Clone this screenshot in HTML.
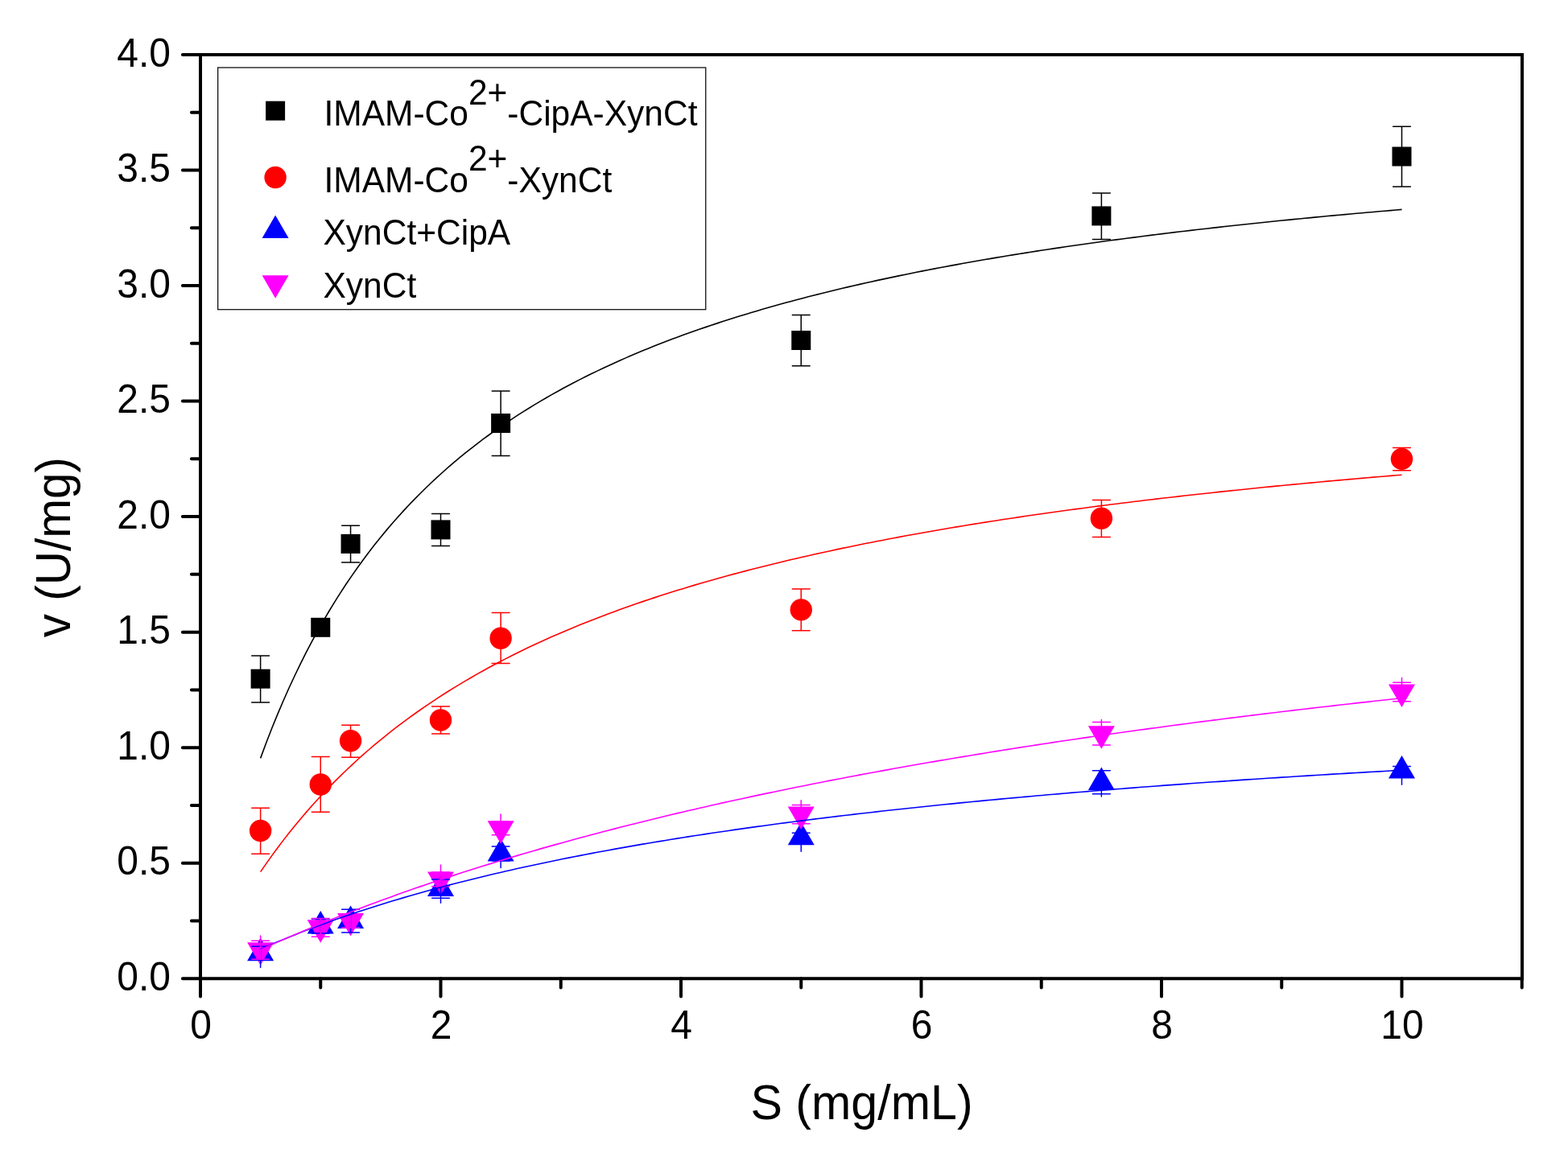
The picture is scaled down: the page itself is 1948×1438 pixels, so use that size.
<!DOCTYPE html><html><head><meta charset="utf-8"><title>Michaelis-Menten plot</title><style>html,body{margin:0;padding:0;background:#fff;}svg{display:block;}text{font-family:"Liberation Sans",Arial,sans-serif;fill:#000;}</style></head><body>
<svg width="1948" height="1438" viewBox="0 0 1948 1438">
<rect width="1948" height="1438" fill="#fff"/>
<path d="M249.00,1216.3 V1238.40 M398.25,1216.3 V1227.40 M547.50,1216.3 V1238.40 M696.75,1216.3 V1227.40 M846.00,1216.3 V1238.40 M995.25,1216.3 V1227.40 M1144.50,1216.3 V1238.40 M1293.75,1216.3 V1227.40 M1443.00,1216.3 V1238.40 M1592.25,1216.3 V1227.40 M1741.50,1216.3 V1238.40 M1890.75,1216.3 V1227.40 M249,1216.30 H226.90 M249,1144.52 H237.90 M249,1072.75 H226.90 M249,1000.97 H237.90 M249,929.20 H226.90 M249,857.42 H237.90 M249,785.65 H226.90 M249,713.87 H237.90 M249,642.10 H226.90 M249,570.32 H237.90 M249,498.55 H226.90 M249,426.77 H237.90 M249,355.00 H226.90 M249,283.22 H237.90 M249,211.45 H226.90 M249,139.67 H237.90 M249,67.90 H226.90" stroke="#000" stroke-width="4" stroke-linecap="round" fill="none"/>
<path d="M249,68 H1891 V1216.3 H249 Z" stroke="#000" stroke-width="4" fill="none" stroke-linejoin="miter"/>
<text transform="translate(249.50,1291.20) scale(1,1.035)" font-size="48" text-anchor="middle">0</text>
<text transform="translate(548.00,1291.20) scale(1,1.035)" font-size="48" text-anchor="middle">2</text>
<text transform="translate(846.50,1291.20) scale(1,1.035)" font-size="48" text-anchor="middle">4</text>
<text transform="translate(1145.00,1291.20) scale(1,1.035)" font-size="48" text-anchor="middle">6</text>
<text transform="translate(1443.50,1291.20) scale(1,1.035)" font-size="48" text-anchor="middle">8</text>
<text transform="translate(1742.00,1291.20) scale(1,1.035)" font-size="48" text-anchor="middle">10</text>
<text transform="translate(212.00,1230.90) scale(1,1.035)" font-size="48" text-anchor="end">0.0</text>
<text transform="translate(212.00,1087.35) scale(1,1.035)" font-size="48" text-anchor="end">0.5</text>
<text transform="translate(212.00,943.80) scale(1,1.035)" font-size="48" text-anchor="end">1.0</text>
<text transform="translate(212.00,800.25) scale(1,1.035)" font-size="48" text-anchor="end">1.5</text>
<text transform="translate(212.00,656.70) scale(1,1.035)" font-size="48" text-anchor="end">2.0</text>
<text transform="translate(212.00,513.15) scale(1,1.035)" font-size="48" text-anchor="end">2.5</text>
<text transform="translate(212.00,369.60) scale(1,1.035)" font-size="48" text-anchor="end">3.0</text>
<text transform="translate(212.00,226.05) scale(1,1.035)" font-size="48" text-anchor="end">3.5</text>
<text transform="translate(212.00,82.50) scale(1,1.035)" font-size="48" text-anchor="end">4.0</text>
<text transform="translate(1070.50,1390.80) scale(1,1.035)" font-size="59.2" text-anchor="middle">S (mg/mL)</text>
<text transform="translate(87.20,680.20) rotate(-90) scale(1,1.04)" font-size="58.5" text-anchor="middle">v (U/mg)</text>
<rect x="311.62" y="831.70" width="24" height="24" fill="#000"/>
<rect x="386.25" y="767.80" width="24" height="24" fill="#000"/>
<rect x="423.56" y="663.90" width="24" height="24" fill="#000"/>
<rect x="535.50" y="646.40" width="24" height="24" fill="#000"/>
<rect x="610.12" y="514.00" width="24" height="24" fill="#000"/>
<rect x="983.25" y="411.00" width="24" height="24" fill="#000"/>
<rect x="1356.38" y="256.40" width="24" height="24" fill="#000"/>
<rect x="1729.50" y="182.50" width="24" height="24" fill="#000"/>
<circle cx="323.62" cy="1032.50" r="13.7" fill="#f00"/>
<circle cx="398.25" cy="975.00" r="13.7" fill="#f00"/>
<circle cx="435.56" cy="920.75" r="13.7" fill="#f00"/>
<circle cx="547.50" cy="895.00" r="13.7" fill="#f00"/>
<circle cx="622.12" cy="793.20" r="13.7" fill="#f00"/>
<circle cx="995.25" cy="757.90" r="13.7" fill="#f00"/>
<circle cx="1368.38" cy="644.30" r="13.7" fill="#f00"/>
<circle cx="1741.50" cy="570.40" r="13.7" fill="#f00"/>
<path d="M323.62,1165.75 L340.12,1194.25 L307.12,1194.25 Z" fill="#00f"/>
<path d="M398.25,1131.90 L414.75,1160.40 L381.75,1160.40 Z" fill="#00f"/>
<path d="M435.56,1125.50 L452.06,1154.00 L419.06,1154.00 Z" fill="#00f"/>
<path d="M547.50,1085.60 L564.00,1114.10 L531.00,1114.10 Z" fill="#00f"/>
<path d="M622.12,1041.90 L638.62,1070.40 L605.62,1070.40 Z" fill="#00f"/>
<path d="M995.25,1021.80 L1011.75,1050.30 L978.75,1050.30 Z" fill="#00f"/>
<path d="M1368.38,953.40 L1384.88,981.90 L1351.88,981.90 Z" fill="#00f"/>
<path d="M1741.50,939.00 L1758.00,967.50 L1725.00,967.50 Z" fill="#00f"/>
<path d="M323.62,1199.70 L340.12,1171.20 L307.12,1171.20 Z" fill="#f0f"/>
<path d="M398.25,1171.70 L414.75,1143.20 L381.75,1143.20 Z" fill="#f0f"/>
<path d="M435.56,1163.60 L452.06,1135.10 L419.06,1135.10 Z" fill="#f0f"/>
<path d="M547.50,1111.90 L564.00,1083.40 L531.00,1083.40 Z" fill="#f0f"/>
<path d="M622.12,1048.80 L638.62,1020.30 L605.62,1020.30 Z" fill="#f0f"/>
<path d="M995.25,1031.00 L1011.75,1002.50 L978.75,1002.50 Z" fill="#f0f"/>
<path d="M1368.38,930.70 L1384.88,902.20 L1351.88,902.20 Z" fill="#f0f"/>
<path d="M1741.50,879.00 L1758.00,850.50 L1725.00,850.50 Z" fill="#f0f"/>
<path d="M323.62,815.10 V872.90 M312.73,815.10 H334.52 M312.73,872.90 H334.52" stroke="#000" stroke-width="1.5" stroke-linecap="round" fill="none"/>
<path d="M398.25,773.00 V787.00 M387.35,773.00 H409.15 M387.35,787.00 H409.15" stroke="#000" stroke-width="1.5" stroke-linecap="round" fill="none"/>
<path d="M435.56,653.20 V699.00 M424.66,653.20 H446.46 M424.66,699.00 H446.46" stroke="#000" stroke-width="1.5" stroke-linecap="round" fill="none"/>
<path d="M547.50,638.50 V678.50 M536.60,638.50 H558.40 M536.60,678.50 H558.40" stroke="#000" stroke-width="1.5" stroke-linecap="round" fill="none"/>
<path d="M622.12,486.00 V566.40 M611.23,486.00 H633.02 M611.23,566.40 H633.02" stroke="#000" stroke-width="1.5" stroke-linecap="round" fill="none"/>
<path d="M995.25,391.60 V454.80 M984.35,391.60 H1006.15 M984.35,454.80 H1006.15" stroke="#000" stroke-width="1.5" stroke-linecap="round" fill="none"/>
<path d="M1368.38,239.90 V297.40 M1357.47,239.90 H1379.28 M1357.47,297.40 H1379.28" stroke="#000" stroke-width="1.5" stroke-linecap="round" fill="none"/>
<path d="M1741.50,157.20 V231.90 M1730.60,157.20 H1752.40 M1730.60,231.90 H1752.40" stroke="#000" stroke-width="1.5" stroke-linecap="round" fill="none"/>
<path d="M323.62,1004.25 V1061.25 M312.73,1004.25 H334.52 M312.73,1061.25 H334.52" stroke="#f00" stroke-width="1.5" stroke-linecap="round" fill="none"/>
<path d="M398.25,940.50 V1009.25 M387.35,940.50 H409.15 M387.35,1009.25 H409.15" stroke="#f00" stroke-width="1.5" stroke-linecap="round" fill="none"/>
<path d="M435.56,901.25 V941.25 M424.66,901.25 H446.46 M424.66,941.25 H446.46" stroke="#f00" stroke-width="1.5" stroke-linecap="round" fill="none"/>
<path d="M547.50,878.10 V912.10 M536.60,878.10 H558.40 M536.60,912.10 H558.40" stroke="#f00" stroke-width="1.5" stroke-linecap="round" fill="none"/>
<path d="M622.12,761.50 V824.50 M611.23,761.50 H633.02 M611.23,824.50 H633.02" stroke="#f00" stroke-width="1.5" stroke-linecap="round" fill="none"/>
<path d="M995.25,732.00 V783.80 M984.35,732.00 H1006.15 M984.35,783.80 H1006.15" stroke="#f00" stroke-width="1.5" stroke-linecap="round" fill="none"/>
<path d="M1368.38,621.60 V667.40 M1357.47,621.60 H1379.28 M1357.47,667.40 H1379.28" stroke="#f00" stroke-width="1.5" stroke-linecap="round" fill="none"/>
<path d="M1741.50,556.50 V584.70 M1730.60,556.50 H1752.40 M1730.60,584.70 H1752.40" stroke="#f00" stroke-width="1.5" stroke-linecap="round" fill="none"/>
<path d="M323.62,1170.40 V1202.60 M312.73,1176.30 H334.52 M312.73,1193.20 H334.52" stroke="#00f" stroke-width="1.5" stroke-linecap="round" fill="none"/>
<path d="M398.25,1142.00 V1160.00 M387.35,1142.00 H409.15 M387.35,1160.00 H409.15" stroke="#00f" stroke-width="1.5" stroke-linecap="round" fill="none"/>
<path d="M435.56,1130.30 V1159.10 M424.66,1130.30 H446.46 M424.66,1159.10 H446.46" stroke="#00f" stroke-width="1.5" stroke-linecap="round" fill="none"/>
<path d="M547.50,1088.40 V1122.30 M536.60,1093.10 H558.40 M536.60,1116.20 H558.40" stroke="#00f" stroke-width="1.5" stroke-linecap="round" fill="none"/>
<path d="M622.12,1051.90 V1078.60 M611.23,1051.90 H633.02 M611.23,1069.90 H633.02" stroke="#00f" stroke-width="1.5" stroke-linecap="round" fill="none"/>
<path d="M995.25,1035.20 V1058.30 M984.35,1035.20 H1006.15 M984.35,1046.40 H1006.15" stroke="#00f" stroke-width="1.5" stroke-linecap="round" fill="none"/>
<path d="M1368.38,957.80 V989.90 M1357.47,957.80 H1379.28 M1357.47,986.80 H1379.28" stroke="#00f" stroke-width="1.5" stroke-linecap="round" fill="none"/>
<path d="M1741.50,952.50 V975.30 M1730.60,952.50 H1752.40 M1730.60,963.50 H1752.40" stroke="#00f" stroke-width="1.5" stroke-linecap="round" fill="none"/>
<path d="M323.62,1162.90 V1192.30 M312.73,1169.20 H334.52 M312.73,1192.30 H334.52" stroke="#f0f" stroke-width="1.5" stroke-linecap="round" fill="none"/>
<path d="M398.25,1141.60 V1164.20 M387.35,1141.60 H409.15 M387.35,1164.20 H409.15" stroke="#f0f" stroke-width="1.5" stroke-linecap="round" fill="none"/>
<path d="M435.56,1136.00 V1153.00 M424.66,1136.00 H446.46 M424.66,1153.00 H446.46" stroke="#f0f" stroke-width="1.5" stroke-linecap="round" fill="none"/>
<path d="M547.50,1075.00 V1101.80 M536.60,1084.00 H558.40 M536.60,1101.80 H558.40" stroke="#f0f" stroke-width="1.5" stroke-linecap="round" fill="none"/>
<path d="M622.12,1012.10 V1037.80 M611.23,1021.00 H633.02 M611.23,1037.80 H633.02" stroke="#f0f" stroke-width="1.5" stroke-linecap="round" fill="none"/>
<path d="M995.25,994.70 V1023.70 M984.35,1000.60 H1006.15 M984.35,1023.70 H1006.15" stroke="#f0f" stroke-width="1.5" stroke-linecap="round" fill="none"/>
<path d="M1368.38,894.40 V926.00 M1357.47,897.50 H1379.28 M1357.47,926.00 H1379.28" stroke="#f0f" stroke-width="1.5" stroke-linecap="round" fill="none"/>
<path d="M1741.50,842.60 V871.80 M1730.60,848.20 H1752.40 M1730.60,871.80 H1752.40" stroke="#f0f" stroke-width="1.5" stroke-linecap="round" fill="none"/>
<path d="M323.62,942.40 L330.71,923.31 L337.80,905.08 L344.89,887.66 L351.98,870.99 L359.07,855.03 L366.16,839.72 L373.25,825.04 L380.34,810.94 L387.43,797.40 L394.52,784.37 L401.61,771.82 L408.70,759.75 L415.79,748.10 L422.88,736.88 L429.97,726.04 L437.06,715.58 L444.14,705.47 L451.23,695.69 L458.32,686.23 L465.41,677.08 L472.50,668.22 L479.59,659.63 L486.68,651.31 L493.77,643.23 L500.86,635.40 L507.95,627.79 L515.04,620.41 L522.13,613.24 L529.22,606.26 L536.31,599.48 L543.40,592.89 L550.49,586.47 L557.57,580.22 L564.66,574.14 L571.75,568.22 L578.84,562.44 L585.93,556.81 L593.02,551.32 L600.11,545.97 L607.20,540.75 L614.29,535.65 L621.38,530.67 L628.47,525.81 L635.56,521.07 L642.65,516.43 L649.74,511.89 L656.83,507.46 L663.91,503.13 L671.00,498.89 L678.09,494.74 L685.18,490.68 L692.27,486.71 L699.36,482.82 L706.45,479.02 L713.54,475.29 L720.63,471.63 L727.72,468.05 L734.81,464.54 L741.90,461.10 L748.99,457.73 L756.08,454.43 L763.17,451.18 L770.26,448.00 L777.35,444.88 L784.43,441.82 L791.52,438.81 L798.61,435.86 L805.70,432.96 L812.79,430.11 L819.88,427.32 L826.97,424.57 L834.06,421.87 L841.15,419.22 L848.24,416.61 L855.33,414.05 L862.42,411.53 L869.51,409.06 L876.60,406.62 L883.69,404.23 L890.77,401.87 L897.86,399.56 L904.95,397.28 L912.04,395.03 L919.13,392.83 L926.22,390.65 L933.31,388.51 L940.40,386.41 L947.49,384.33 L954.58,382.29 L961.67,380.28 L968.76,378.30 L975.85,376.35 L982.94,374.42 L990.03,372.53 L997.12,370.66 L1004.20,368.82 L1011.29,367.01 L1018.38,365.22 L1025.47,363.46 L1032.56,361.72 L1039.65,360.01 L1046.74,358.32 L1053.83,356.65 L1060.92,355.01 L1068.01,353.38 L1075.10,351.79 L1082.19,350.21 L1089.28,348.65 L1096.37,347.11 L1103.46,345.60 L1110.55,344.10 L1117.63,342.62 L1124.72,341.17 L1131.81,339.73 L1138.90,338.31 L1145.99,336.90 L1153.08,335.52 L1160.17,334.15 L1167.26,332.80 L1174.35,331.46 L1181.44,330.14 L1188.53,328.84 L1195.62,327.56 L1202.71,326.28 L1209.80,325.03 L1216.89,323.79 L1223.98,322.56 L1231.07,321.35 L1238.15,320.15 L1245.24,318.97 L1252.33,317.80 L1259.42,316.64 L1266.51,315.50 L1273.60,314.37 L1280.69,313.25 L1287.78,312.15 L1294.87,311.05 L1301.96,309.97 L1309.05,308.90 L1316.14,307.85 L1323.23,306.80 L1330.32,305.77 L1337.41,304.74 L1344.49,303.73 L1351.58,302.73 L1358.67,301.74 L1365.76,300.76 L1372.85,299.79 L1379.94,298.83 L1387.03,297.88 L1394.12,296.94 L1401.21,296.01 L1408.30,295.09 L1415.39,294.18 L1422.48,293.28 L1429.57,292.38 L1436.66,291.50 L1443.75,290.62 L1450.84,289.76 L1457.92,288.90 L1465.01,288.05 L1472.10,287.21 L1479.19,286.38 L1486.28,285.55 L1493.37,284.73 L1500.46,283.92 L1507.55,283.12 L1514.64,282.33 L1521.73,281.54 L1528.82,280.76 L1535.91,279.99 L1543.00,279.23 L1550.09,278.47 L1557.18,277.72 L1564.27,276.98 L1571.36,276.24 L1578.44,275.51 L1585.53,274.79 L1592.62,274.07 L1599.71,273.36 L1606.80,272.66 L1613.89,271.96 L1620.98,271.27 L1628.07,270.58 L1635.16,269.90 L1642.25,269.23 L1649.34,268.56 L1656.43,267.90 L1663.52,267.25 L1670.61,266.60 L1677.70,265.95 L1684.78,265.31 L1691.87,264.68 L1698.96,264.05 L1706.05,263.43 L1713.14,262.81 L1720.23,262.20 L1727.32,261.59 L1734.41,260.99 L1741.50,260.39" stroke="#000000" stroke-width="1.6" fill="none" stroke-linejoin="round"/>
<path d="M323.62,1083.66 L330.71,1073.37 L337.80,1063.40 L344.89,1053.75 L351.98,1044.38 L359.07,1035.30 L366.16,1026.48 L373.25,1017.93 L380.34,1009.61 L387.43,1001.53 L394.52,993.68 L401.61,986.04 L408.70,978.61 L415.79,971.38 L422.88,964.34 L429.97,957.48 L437.06,950.80 L444.14,944.28 L451.23,937.94 L458.32,931.74 L465.41,925.70 L472.50,919.81 L479.59,914.06 L486.68,908.44 L493.77,902.95 L500.86,897.59 L507.95,892.35 L515.04,887.23 L522.13,882.23 L529.22,877.33 L536.31,872.54 L543.40,867.85 L550.49,863.27 L557.57,858.78 L564.66,854.38 L571.75,850.08 L578.84,845.86 L585.93,841.73 L593.02,837.68 L600.11,833.71 L607.20,829.82 L614.29,826.01 L621.38,822.27 L628.47,818.60 L635.56,815.00 L642.65,811.46 L649.74,808.00 L656.83,804.59 L663.91,801.25 L671.00,797.97 L678.09,794.75 L685.18,791.58 L692.27,788.47 L699.36,785.42 L706.45,782.42 L713.54,779.46 L720.63,776.56 L727.72,773.71 L734.81,770.91 L741.90,768.15 L748.99,765.43 L756.08,762.77 L763.17,760.14 L770.26,757.56 L777.35,755.01 L784.43,752.51 L791.52,750.05 L798.61,747.62 L805.70,745.24 L812.79,742.88 L819.88,740.57 L826.97,738.29 L834.06,736.04 L841.15,733.83 L848.24,731.65 L855.33,729.50 L862.42,727.38 L869.51,725.29 L876.60,723.24 L883.69,721.21 L890.77,719.21 L897.86,717.24 L904.95,715.30 L912.04,713.38 L919.13,711.49 L926.22,709.62 L933.31,707.78 L940.40,705.97 L947.49,704.18 L954.58,702.41 L961.67,700.67 L968.76,698.95 L975.85,697.25 L982.94,695.57 L990.03,693.92 L997.12,692.28 L1004.20,690.67 L1011.29,689.08 L1018.38,687.50 L1025.47,685.95 L1032.56,684.42 L1039.65,682.90 L1046.74,681.40 L1053.83,679.92 L1060.92,678.46 L1068.01,677.02 L1075.10,675.59 L1082.19,674.18 L1089.28,672.79 L1096.37,671.42 L1103.46,670.06 L1110.55,668.71 L1117.63,667.38 L1124.72,666.07 L1131.81,664.77 L1138.90,663.49 L1145.99,662.22 L1153.08,660.96 L1160.17,659.72 L1167.26,658.49 L1174.35,657.28 L1181.44,656.08 L1188.53,654.89 L1195.62,653.71 L1202.71,652.55 L1209.80,651.40 L1216.89,650.26 L1223.98,649.14 L1231.07,648.02 L1238.15,646.92 L1245.24,645.83 L1252.33,644.75 L1259.42,643.68 L1266.51,642.62 L1273.60,641.58 L1280.69,640.54 L1287.78,639.52 L1294.87,638.50 L1301.96,637.50 L1309.05,636.50 L1316.14,635.52 L1323.23,634.54 L1330.32,633.58 L1337.41,632.62 L1344.49,631.67 L1351.58,630.73 L1358.67,629.81 L1365.76,628.89 L1372.85,627.98 L1379.94,627.07 L1387.03,626.18 L1394.12,625.29 L1401.21,624.42 L1408.30,623.55 L1415.39,622.69 L1422.48,621.83 L1429.57,620.99 L1436.66,620.15 L1443.75,619.32 L1450.84,618.50 L1457.92,617.68 L1465.01,616.87 L1472.10,616.07 L1479.19,615.28 L1486.28,614.49 L1493.37,613.72 L1500.46,612.94 L1507.55,612.18 L1514.64,611.42 L1521.73,610.67 L1528.82,609.92 L1535.91,609.18 L1543.00,608.45 L1550.09,607.72 L1557.18,607.00 L1564.27,606.28 L1571.36,605.57 L1578.44,604.87 L1585.53,604.17 L1592.62,603.48 L1599.71,602.80 L1606.80,602.12 L1613.89,601.44 L1620.98,600.78 L1628.07,600.11 L1635.16,599.45 L1642.25,598.80 L1649.34,598.15 L1656.43,597.51 L1663.52,596.87 L1670.61,596.24 L1677.70,595.62 L1684.78,594.99 L1691.87,594.38 L1698.96,593.76 L1706.05,593.16 L1713.14,592.55 L1720.23,591.96 L1727.32,591.36 L1734.41,590.77 L1741.50,590.19" stroke="#ff0000" stroke-width="1.6" fill="none" stroke-linejoin="round"/>
<path d="M323.62,1179.77 L330.71,1176.66 L337.80,1173.60 L344.89,1170.60 L351.98,1167.65 L359.07,1164.76 L366.16,1161.91 L373.25,1159.11 L380.34,1156.36 L387.43,1153.66 L394.52,1151.00 L401.61,1148.39 L408.70,1145.82 L415.79,1143.29 L422.88,1140.80 L429.97,1138.35 L437.06,1135.94 L444.14,1133.57 L451.23,1131.23 L458.32,1128.93 L465.41,1126.67 L472.50,1124.44 L479.59,1122.25 L486.68,1120.08 L493.77,1117.95 L500.86,1115.86 L507.95,1113.79 L515.04,1111.75 L522.13,1109.75 L529.22,1107.77 L536.31,1105.82 L543.40,1103.89 L550.49,1102.00 L557.57,1100.13 L564.66,1098.29 L571.75,1096.47 L578.84,1094.68 L585.93,1092.91 L593.02,1091.16 L600.11,1089.44 L607.20,1087.75 L614.29,1086.07 L621.38,1084.42 L628.47,1082.79 L635.56,1081.18 L642.65,1079.59 L649.74,1078.02 L656.83,1076.47 L663.91,1074.94 L671.00,1073.43 L678.09,1071.94 L685.18,1070.46 L692.27,1069.01 L699.36,1067.57 L706.45,1066.15 L713.54,1064.75 L720.63,1063.37 L727.72,1062.00 L734.81,1060.65 L741.90,1059.31 L748.99,1057.99 L756.08,1056.68 L763.17,1055.39 L770.26,1054.12 L777.35,1052.86 L784.43,1051.61 L791.52,1050.38 L798.61,1049.16 L805.70,1047.96 L812.79,1046.77 L819.88,1045.59 L826.97,1044.43 L834.06,1043.28 L841.15,1042.14 L848.24,1041.01 L855.33,1039.90 L862.42,1038.79 L869.51,1037.70 L876.60,1036.63 L883.69,1035.56 L890.77,1034.50 L897.86,1033.46 L904.95,1032.42 L912.04,1031.40 L919.13,1030.39 L926.22,1029.38 L933.31,1028.39 L940.40,1027.41 L947.49,1026.44 L954.58,1025.47 L961.67,1024.52 L968.76,1023.58 L975.85,1022.64 L982.94,1021.72 L990.03,1020.80 L997.12,1019.90 L1004.20,1019.00 L1011.29,1018.11 L1018.38,1017.23 L1025.47,1016.36 L1032.56,1015.49 L1039.65,1014.64 L1046.74,1013.79 L1053.83,1012.95 L1060.92,1012.12 L1068.01,1011.29 L1075.10,1010.48 L1082.19,1009.67 L1089.28,1008.86 L1096.37,1008.07 L1103.46,1007.28 L1110.55,1006.50 L1117.63,1005.73 L1124.72,1004.96 L1131.81,1004.21 L1138.90,1003.45 L1145.99,1002.71 L1153.08,1001.97 L1160.17,1001.24 L1167.26,1000.51 L1174.35,999.79 L1181.44,999.08 L1188.53,998.37 L1195.62,997.67 L1202.71,996.97 L1209.80,996.28 L1216.89,995.60 L1223.98,994.92 L1231.07,994.25 L1238.15,993.58 L1245.24,992.92 L1252.33,992.26 L1259.42,991.61 L1266.51,990.97 L1273.60,990.33 L1280.69,989.70 L1287.78,989.07 L1294.87,988.44 L1301.96,987.82 L1309.05,987.21 L1316.14,986.60 L1323.23,986.00 L1330.32,985.40 L1337.41,984.80 L1344.49,984.21 L1351.58,983.63 L1358.67,983.05 L1365.76,982.47 L1372.85,981.90 L1379.94,981.33 L1387.03,980.77 L1394.12,980.21 L1401.21,979.65 L1408.30,979.10 L1415.39,978.56 L1422.48,978.02 L1429.57,977.48 L1436.66,976.94 L1443.75,976.42 L1450.84,975.89 L1457.92,975.37 L1465.01,974.85 L1472.10,974.33 L1479.19,973.82 L1486.28,973.32 L1493.37,972.81 L1500.46,972.31 L1507.55,971.82 L1514.64,971.33 L1521.73,970.84 L1528.82,970.35 L1535.91,969.87 L1543.00,969.39 L1550.09,968.92 L1557.18,968.45 L1564.27,967.98 L1571.36,967.51 L1578.44,967.05 L1585.53,966.59 L1592.62,966.14 L1599.71,965.68 L1606.80,965.23 L1613.89,964.79 L1620.98,964.35 L1628.07,963.91 L1635.16,963.47 L1642.25,963.03 L1649.34,962.60 L1656.43,962.17 L1663.52,961.75 L1670.61,961.33 L1677.70,960.91 L1684.78,960.49 L1691.87,960.08 L1698.96,959.66 L1706.05,959.26 L1713.14,958.85 L1720.23,958.45 L1727.32,958.04 L1734.41,957.65 L1741.50,957.25" stroke="#0000ff" stroke-width="1.6" fill="none" stroke-linejoin="round"/>
<path d="M323.62,1180.40 L330.71,1177.20 L337.80,1174.03 L344.89,1170.89 L351.98,1167.79 L359.07,1164.71 L366.16,1161.67 L373.25,1158.66 L380.34,1155.69 L387.43,1152.74 L394.52,1149.82 L401.61,1146.93 L408.70,1144.07 L415.79,1141.23 L422.88,1138.43 L429.97,1135.65 L437.06,1132.90 L444.14,1130.18 L451.23,1127.48 L458.32,1124.81 L465.41,1122.17 L472.50,1119.55 L479.59,1116.95 L486.68,1114.38 L493.77,1111.83 L500.86,1109.31 L507.95,1106.81 L515.04,1104.33 L522.13,1101.88 L529.22,1099.45 L536.31,1097.04 L543.40,1094.66 L550.49,1092.29 L557.57,1089.95 L564.66,1087.62 L571.75,1085.32 L578.84,1083.04 L585.93,1080.78 L593.02,1078.54 L600.11,1076.32 L607.20,1074.12 L614.29,1071.93 L621.38,1069.77 L628.47,1067.62 L635.56,1065.50 L642.65,1063.39 L649.74,1061.30 L656.83,1059.22 L663.91,1057.17 L671.00,1055.13 L678.09,1053.11 L685.18,1051.11 L692.27,1049.12 L699.36,1047.15 L706.45,1045.19 L713.54,1043.25 L720.63,1041.33 L727.72,1039.42 L734.81,1037.53 L741.90,1035.66 L748.99,1033.79 L756.08,1031.95 L763.17,1030.12 L770.26,1028.30 L777.35,1026.50 L784.43,1024.71 L791.52,1022.93 L798.61,1021.17 L805.70,1019.42 L812.79,1017.69 L819.88,1015.97 L826.97,1014.26 L834.06,1012.57 L841.15,1010.89 L848.24,1009.22 L855.33,1007.57 L862.42,1005.92 L869.51,1004.29 L876.60,1002.67 L883.69,1001.07 L890.77,999.47 L897.86,997.89 L904.95,996.32 L912.04,994.76 L919.13,993.21 L926.22,991.68 L933.31,990.15 L940.40,988.64 L947.49,987.13 L954.58,985.64 L961.67,984.16 L968.76,982.69 L975.85,981.23 L982.94,979.78 L990.03,978.34 L997.12,976.91 L1004.20,975.49 L1011.29,974.08 L1018.38,972.68 L1025.47,971.29 L1032.56,969.91 L1039.65,968.54 L1046.74,967.18 L1053.83,965.82 L1060.92,964.48 L1068.01,963.15 L1075.10,961.82 L1082.19,960.51 L1089.28,959.20 L1096.37,957.90 L1103.46,956.61 L1110.55,955.33 L1117.63,954.06 L1124.72,952.79 L1131.81,951.54 L1138.90,950.29 L1145.99,949.05 L1153.08,947.82 L1160.17,946.60 L1167.26,945.38 L1174.35,944.17 L1181.44,942.97 L1188.53,941.78 L1195.62,940.60 L1202.71,939.42 L1209.80,938.25 L1216.89,937.09 L1223.98,935.94 L1231.07,934.79 L1238.15,933.65 L1245.24,932.52 L1252.33,931.39 L1259.42,930.27 L1266.51,929.16 L1273.60,928.06 L1280.69,926.96 L1287.78,925.87 L1294.87,924.79 L1301.96,923.71 L1309.05,922.64 L1316.14,921.57 L1323.23,920.51 L1330.32,919.46 L1337.41,918.42 L1344.49,917.38 L1351.58,916.34 L1358.67,915.32 L1365.76,914.30 L1372.85,913.28 L1379.94,912.27 L1387.03,911.27 L1394.12,910.27 L1401.21,909.28 L1408.30,908.30 L1415.39,907.32 L1422.48,906.35 L1429.57,905.38 L1436.66,904.42 L1443.75,903.46 L1450.84,902.51 L1457.92,901.56 L1465.01,900.62 L1472.10,899.69 L1479.19,898.76 L1486.28,897.83 L1493.37,896.91 L1500.46,896.00 L1507.55,895.09 L1514.64,894.19 L1521.73,893.29 L1528.82,892.39 L1535.91,891.50 L1543.00,890.62 L1550.09,889.74 L1557.18,888.87 L1564.27,888.00 L1571.36,887.13 L1578.44,886.27 L1585.53,885.42 L1592.62,884.57 L1599.71,883.72 L1606.80,882.88 L1613.89,882.04 L1620.98,881.21 L1628.07,880.38 L1635.16,879.56 L1642.25,878.74 L1649.34,877.93 L1656.43,877.12 L1663.52,876.31 L1670.61,875.51 L1677.70,874.71 L1684.78,873.92 L1691.87,873.13 L1698.96,872.34 L1706.05,871.56 L1713.14,870.79 L1720.23,870.01 L1727.32,869.24 L1734.41,868.48 L1741.50,867.72" stroke="#ff00ff" stroke-width="1.6" fill="none" stroke-linejoin="round"/>
<rect x="270.65" y="84" width="606.1" height="300.7" fill="none" stroke="#111" stroke-width="1.3"/>
<rect x="330.10" y="125.70" width="24" height="24" fill="#000"/>
<circle cx="342.10" cy="220.50" r="13.7" fill="#f00"/>
<path d="M342.10,267.40 L358.60,295.90 L325.60,295.90 Z" fill="#00f"/>
<path d="M342.10,370.80 L358.60,342.30 L325.60,342.30 Z" fill="#f0f"/>
<text transform="translate(402.5,155.8) scale(1,1.05)" font-size="42.5">IMAM-Co<tspan dy="-25">2+</tspan><tspan dy="25">-CipA-XynCt</tspan></text>
<text transform="translate(402.5,238.7) scale(1,1.05)" font-size="42.5">IMAM-Co<tspan dy="-25">2+</tspan><tspan dy="25">-XynCt</tspan></text>
<text transform="translate(401.5,303.9) scale(1,1.05)" font-size="42.5">XynCt+CipA</text>
<text transform="translate(401.5,369.8) scale(1,1.05)" font-size="42.5">XynCt</text>
</svg></body></html>
